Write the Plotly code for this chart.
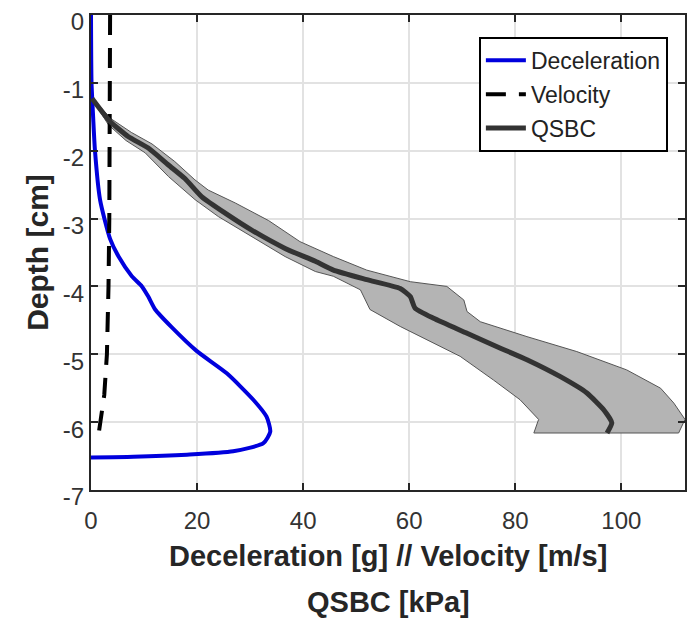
import plotly.graph_objects as go

# Deceleration [g] vs depth [cm]
decel_x = [0, 0.1, 0.4, 0.75, 1.7, 3.6, 5.2, 7.7, 9.6, 10.8, 12.1, 15.2, 19.9, 25.6, 30.6, 33.1, 33.8, 32.5, 26.8, 18.1, 8.0, 0]
decel_d = [0, -1.0, -1.5, -2.0, -2.72, -3.3, -3.56, -3.85, -4.0, -4.15, -4.34, -4.6, -4.95, -5.28, -5.67, -5.92, -6.14, -6.31, -6.43, -6.48, -6.51, -6.52]

# Velocity [m/s] vs depth
vel_x = [3.6, 3.6, 3.55, 3.45, 3.3, 3.0, 2.5, 1.7, 1.3]
vel_d = [0, -1, -2, -3, -4, -5, -5.6, -6.05, -6.25]

# QSBC mean [kPa] vs depth
qsbc_x = [0.2, 3.6, 7.0, 10.8, 14.6, 17.7, 20.9, 25.3, 30.3, 36.6, 42.3, 45.7, 52.0, 58.3, 60.2, 61.1, 64.6, 70.9, 77.2, 82.2, 88.5, 93.5, 96.7, 98.2, 97.3]
qsbc_d = [-1.23, -1.57, -1.79, -1.96, -2.21, -2.41, -2.68, -2.92, -3.17, -3.44, -3.63, -3.76, -3.90, -4.03, -4.15, -4.32, -4.47, -4.69, -4.91, -5.08, -5.33, -5.57, -5.82, -6.01, -6.16]

# QSBC band edges
upper_x = [0.2, 3.8, 7.6, 11.5, 15.8, 19.6, 22.1, 27.2, 33.5, 39.4, 45.7, 52.0, 60.2, 67.1, 70.3, 70.9, 73.4, 82.2, 91.6, 101.0, 107.4, 109.9, 112.0, 110.8]
upper_d = [-1.22, -1.53, -1.73, -1.9, -2.16, -2.43, -2.58, -2.77, -3.03, -3.34, -3.56, -3.76, -3.93, -4.0, -4.2, -4.37, -4.52, -4.74, -4.96, -5.23, -5.5, -5.72, -5.96, -6.16]
lower_x = [0.2, 3.3, 6.6, 10.2, 14.6, 19.6, 24.0, 30.3, 36.6, 42.3, 45.7, 50.8, 52.6, 58.3, 64.6, 69.6, 75.9, 80.9, 84.4, 83.5]
lower_d = [-1.24, -1.62, -1.85, -2.03, -2.38, -2.72, -2.97, -3.26, -3.56, -3.78, -3.85, -4.05, -4.34, -4.59, -4.83, -5.03, -5.38, -5.67, -5.96, -6.16]

x_ticks = [0, 20, 40, 60, 80, 100]
y_ticks = [0, -1, -2, -3, -4, -5, -6, -7]
x_title_lines = ["Deceleration [g] // Velocity [m/s]", "QSBC [kPa]"]
y_title = "Depth [cm]"

FONT = "Liberation Sans, Arial, sans-serif"

fig = go.Figure()

fig.add_trace(go.Scatter(
    x=upper_x + lower_x[::-1], y=upper_d + lower_d[::-1],
    fill="toself", fillcolor="#b4b4b4", mode="lines",
    line=dict(color="#555555", width=1), showlegend=False, hoverinfo="skip"))

fig.add_trace(go.Scatter(
    x=decel_x, y=decel_d, mode="lines", name="Deceleration",
    line=dict(color="#0000dd", width=4, shape="spline", smoothing=0.6), legendgroup="a"))

fig.add_trace(go.Scatter(
    x=vel_x, y=vel_d, mode="lines", name="Velocity",
    line=dict(color="#000000", width=4, dash="20px,13px"), legendgroup="b"))

fig.add_trace(go.Scatter(
    x=qsbc_x, y=qsbc_d, mode="lines", name="QSBC",
    line=dict(color="#333333", width=5, shape="spline", smoothing=0.5), legendgroup="c"))

axis_common = dict(
    showline=True, linecolor="#262626", linewidth=2, mirror="ticks",
    ticks="inside", ticklen=7, tickwidth=2, tickcolor="#262626",
    showgrid=True, gridcolor="#e2e2e2", gridwidth=2, zeroline=False,
    tickfont=dict(family=FONT, size=24, color="#333333"),
    automargin=False, ticklabeloverflow="allow",
)

fig.update_xaxes(
    range=[0, 112], tickvals=x_ticks, ticktext=[str(v) for v in x_ticks],
    ticklabelstandoff=8, **axis_common)
fig.update_yaxes(
    range=[-7, 0], tickvals=y_ticks, ticktext=[str(v) for v in y_ticks],
    ticklabelshift=7,
    title=dict(text="<b>" + y_title + "</b>",
               font=dict(family=FONT, size=30, color="#262626"), standoff=5),
    **axis_common)

for i, (line, shift) in enumerate(zip(x_title_lines, [-66, -112])):
    fig.add_annotation(
        text="<b>" + line + "</b>", xref="paper", yref="paper", x=0.5, y=0,
        xanchor="center", yanchor="middle", yshift=shift, showarrow=False,
        font=dict(family=FONT, size=29, color="#262626"))

fig.update_layout(
    width=687, height=616,
    margin=dict(l=83, r=10, t=7, b=134),
    plot_bgcolor="white", paper_bgcolor="white",
    legend=dict(x=0.653, y=0.954, xanchor="left", yanchor="top",
                bgcolor="white", bordercolor="#000000", borderwidth=2,
                font=dict(family=FONT, size=23, color="#222222"),
                tracegroupgap=1, itemwidth=40),
)

fig.write_html("out.html")
